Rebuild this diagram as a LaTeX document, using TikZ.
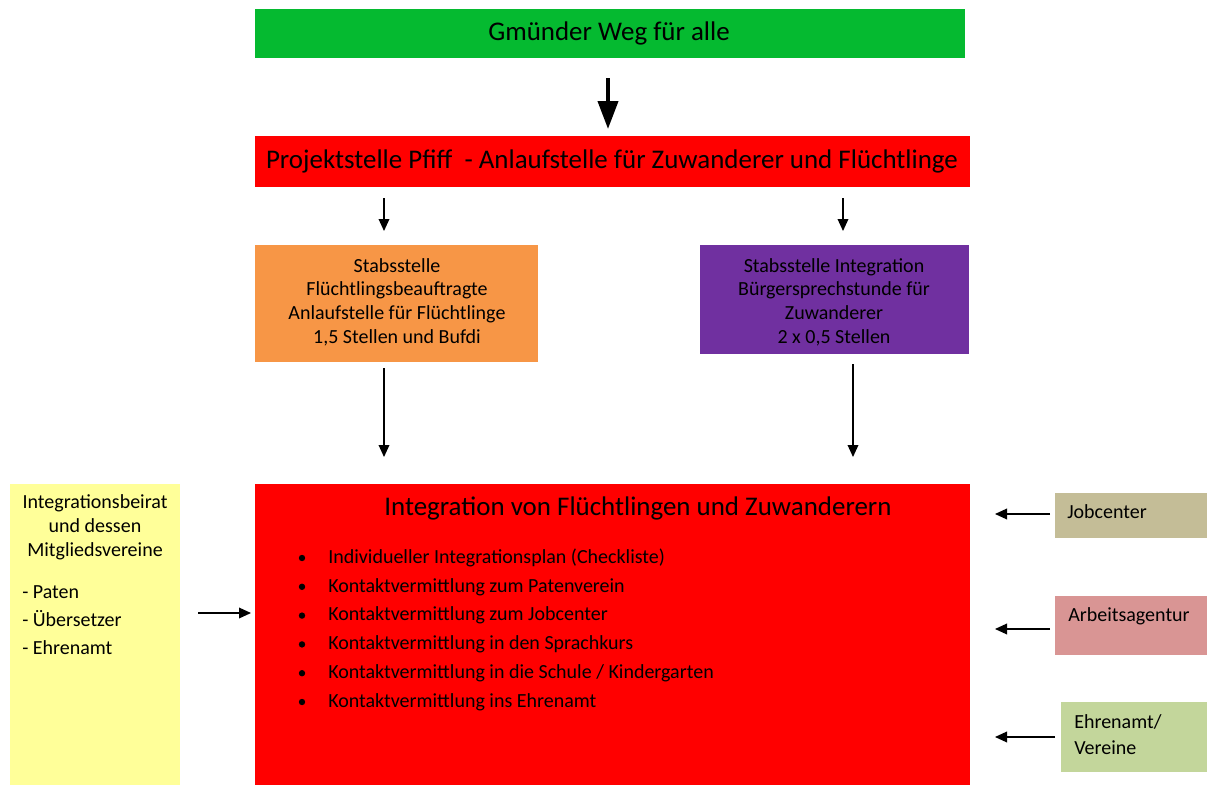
\documentclass[tikz,border=0pt]{standalone}
\usepackage{fontspec}
\setmainfont{Carlito}
\usetikzlibrary{arrows.meta}
\definecolor{gruen}{HTML}{05BA30}
\definecolor{rot}{HTML}{FF0000}
\definecolor{orange}{HTML}{F79646}
\definecolor{lila}{HTML}{7030A0}
\definecolor{gelb}{HTML}{FFFF99}
\definecolor{jobc}{HTML}{C4BD97}
\definecolor{arbag}{HTML}{D99594}
\definecolor{ehren}{HTML}{C3D69B}
\tikzset{
  box/.style={anchor=north west, inner sep=0pt, outer sep=0pt, draw=none},
  bigtext/.style={font=\fontsize{20.2pt}{24pt}\selectfont},
  smalltext/.style={font=\fontsize{15pt}{18pt}\selectfont},
  arr/.style={draw=black, line width=1pt, -{Triangle[width=8pt,length=9pt]}},
  bigarr/.style={draw=black, line width=3pt, -{Triangle[width=15pt,length=21pt]}},
}
\begin{document}
\begin{tikzpicture}[x=0.75pt,y=-0.75pt]
\useasboundingbox (0,0) rectangle (1207,785);
% boxes
\node[box, fill=gruen, minimum width=710*0.75pt, minimum height=49*0.75pt] (weg) at (255,9) {};
\node[bigtext] at (609,33.5) {Gmünder Weg für alle};

\node[box, fill=rot, minimum width=715*0.75pt, minimum height=51*0.75pt] (pfiff) at (255,136) {};
\node[bigtext] at (612,161) {Projektstelle Pfiff\ \ - Anlaufstelle für Zuwanderer und Flüchtlinge};

\node[box, fill=orange, minimum width=283*0.75pt, minimum height=117*0.75pt] (fluecht) at (255,245) {};
\node[align=center, font=\fontsize{15pt}{17.8pt}\selectfont] at (397,302) {Stabsstelle\\Flüchtlingsbeauftragte\\Anlaufstelle für Flüchtlinge\\1,5 Stellen und Bufdi};

\node[box, fill=lila, minimum width=269*0.75pt, minimum height=109*0.75pt] (integ) at (700,245) {};
\node[align=center, font=\fontsize{15pt}{17.8pt}\selectfont] at (834,302) {Stabsstelle Integration\\Bürgersprechstunde für\\Zuwanderer\\2 x 0,5 Stellen};

\node[box, fill=rot, minimum width=715*0.75pt, minimum height=301*0.75pt] (haupt) at (255,484) {};
\node[bigtext] at (638,508) {Integration von Flüchtlingen und Zuwanderern};
\foreach \t [count=\i from 0] in {Individueller Integrationsplan (Checkliste),Kontaktvermittlung zum Patenverein,Kontaktvermittlung zum Jobcenter,Kontaktvermittlung in den Sprachkurs,Kontaktvermittlung in die Schule / Kindergarten,Kontaktvermittlung ins Ehrenamt}{
  \fill (302,{558+28.8*\i}) circle (3.2);
  \node[anchor=west, inner sep=0pt, smalltext] at (328,{558+28.8*\i}) {\t};
}

\node[box, fill=gelb, minimum width=170*0.75pt, minimum height=301*0.75pt] (beirat) at (10,484) {};
\node[align=center, font=\fontsize{15pt}{18pt}\selectfont] at (95,527) {Integrationsbeirat\\und dessen\\Mitgliedsvereine};
\node[align=left, anchor=west, inner sep=0pt, font=\fontsize{15pt}{21pt}\selectfont] at (22,620) {- Paten\\- Übersetzer\\- Ehrenamt};

\node[box, fill=jobc, minimum width=152*0.75pt, minimum height=45*0.75pt] (job) at (1055,493) {};
\node[anchor=west, inner sep=0pt, smalltext] at (1067,512) {Jobcenter};

\node[box, fill=arbag, minimum width=152*0.75pt, minimum height=59*0.75pt] (arb) at (1055,596) {};
\node[anchor=west, inner sep=0pt, smalltext] at (1068,616) {Arbeitsagentur};

\node[box, fill=ehren, minimum width=146*0.75pt, minimum height=70*0.75pt] (ehr) at (1061,702) {};
\node[anchor=west, inner sep=0pt, align=left, font=\fontsize{15pt}{19.5pt}\selectfont] at (1074,735) {Ehrenamt/\\Vereine};

% arrow end points
\coordinate (a1s) at (608,78);   \coordinate (a1e) at (608,129);
\coordinate (a2s) at (384,198);  \coordinate (a2e) at (384,231);
\coordinate (a3s) at (843,198);  \coordinate (a3e) at (843,231);
\coordinate (a4s) at (384,368);  \coordinate (a4e) at (384,457);
\coordinate (a5s) at (853,364);  \coordinate (a5e) at (853,457);
\coordinate (a6s) at (198,613);  \coordinate (a6e) at (251,613);
\coordinate (a7s) at (1050,514); \coordinate (a7e) at (995,514);
\coordinate (a8s) at (1050,629); \coordinate (a8e) at (995,629);
\coordinate (a9s) at (1055,737); \coordinate (a9e) at (995,737);

\draw[bigarr] (a1s) -- (a1e);
\draw[arr] (a2s) -- (a2e);
\draw[arr] (a3s) -- (a3e);
\draw[arr] (a4s) -- (a4e);
\draw[arr] (a5s) -- (a5e);
\draw[arr] (a6s) -- (a6e);
\draw[arr] (a7s) -- (a7e);
\draw[arr] (a8s) -- (a8e);
\draw[arr] (a9s) -- (a9e);
\end{tikzpicture}
\end{document}
